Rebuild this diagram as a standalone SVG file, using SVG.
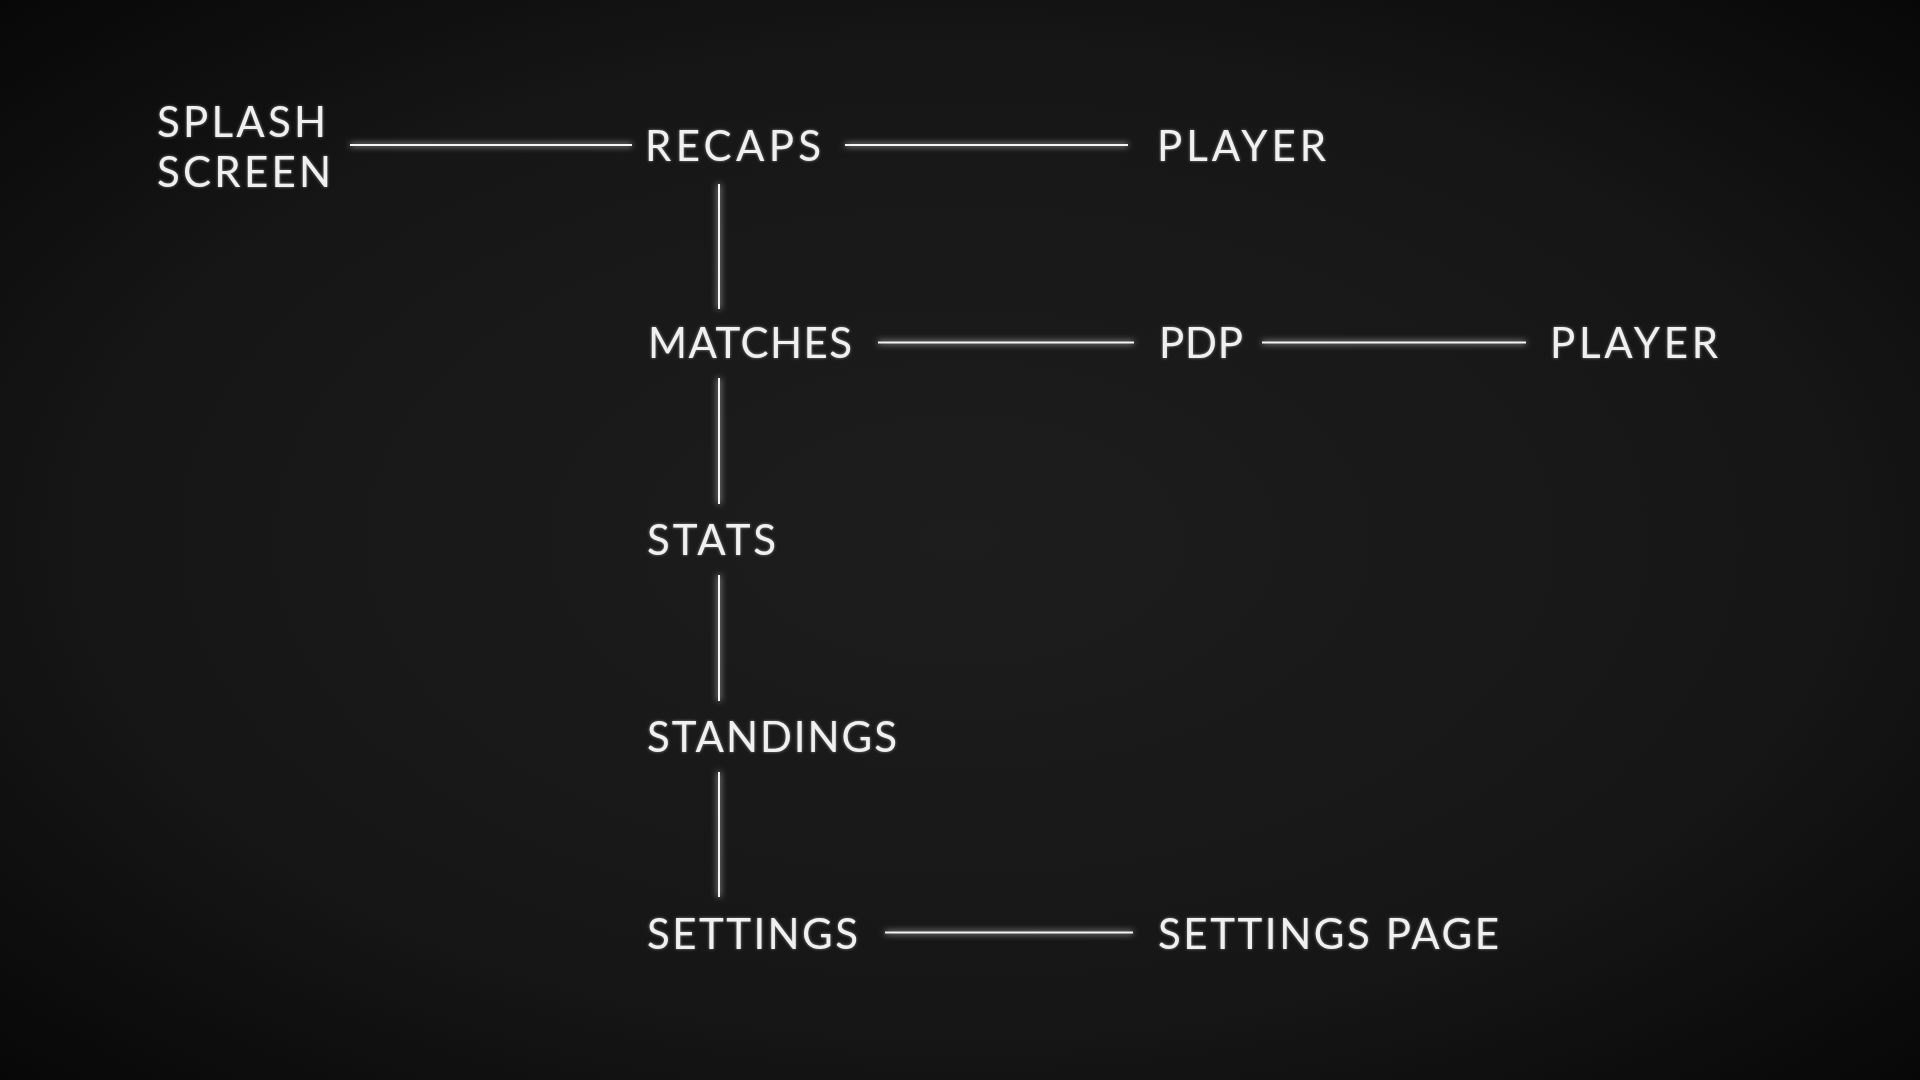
<svg xmlns="http://www.w3.org/2000/svg" width="1920" height="1080" viewBox="0 0 1920 1080">
<defs>
<radialGradient id="bg" cx="50%" cy="50%" r="75%">
<stop offset="0" stop-color="#1d1d1d"/>
<stop offset="0.6" stop-color="#161616"/>
<stop offset="1" stop-color="#050505"/>
</radialGradient>
<filter id="glow" x="0" y="0" width="1920" height="1080" filterUnits="userSpaceOnUse">
<feGaussianBlur in="SourceGraphic" stdDeviation="3" result="b"/>
<feMerge><feMergeNode in="b"/><feMergeNode in="SourceGraphic"/></feMerge>
</filter>
<filter id="tglow" x="0" y="0" width="1920" height="1080" filterUnits="userSpaceOnUse">
<feGaussianBlur in="SourceGraphic" stdDeviation="1.5" result="b"/>
<feComponentTransfer in="b" result="b2"><feFuncA type="linear" slope="0.5"/></feComponentTransfer>
<feMerge><feMergeNode in="b2"/><feMergeNode in="SourceGraphic"/></feMerge>
</filter>
</defs>
<style>
.t{font-family:Lato,"Liberation Sans",sans-serif;font-weight:400;font-size:42px;fill:#f0f0f0;}
.c line{stroke:#f4f4f4;stroke-width:2;}
</style>
<rect width="1920" height="1080" fill="url(#bg)"/>
<g id="connectors" class="c" filter="url(#glow)">
<line x1="350" y1="145" x2="632" y2="145"/>
<line x1="845" y1="145" x2="1128" y2="145"/>
<line x1="719" y1="184" x2="719" y2="309"/>
<line x1="878" y1="342.5" x2="1134" y2="342.5"/>
<line x1="1262" y1="342.5" x2="1526" y2="342.5"/>
<line x1="719" y1="378" x2="719" y2="504"/>
<line x1="719" y1="575" x2="719" y2="701"/>
<line x1="719" y1="772" x2="719" y2="897"/>
<line x1="885" y1="932.5" x2="1133" y2="932.5"/>
</g>
<g filter="url(#tglow)">
<g id="splash"><text class="t" x="157" y="137" textLength="169">SPLASH</text><text class="t" x="157" y="187" textLength="174">SCREEN</text></g>
<g id="recaps"><text class="t" x="645" y="161" textLength="176">RECAPS</text></g>
<g id="player1"><text class="t" x="1157" y="161" textLength="169">PLAYER</text></g>
<g id="matches"><text class="t" x="648" y="358" textLength="204">MATCHES</text></g>
<g id="pdp"><text class="t" x="1159" y="358" textLength="84">PDP</text></g>
<g id="player2"><text class="t" x="1550" y="358" textLength="168">PLAYER</text></g>
<g id="stats"><text class="t" x="647" y="555" textLength="129">STATS</text></g>
<g id="standings"><text class="t" x="647" y="752" textLength="250">STANDINGS</text></g>
<g id="settings"><text class="t" x="647" y="949" textLength="211">SETTINGS</text></g>
<g id="settings-page"><text class="t" x="1158" y="949" textLength="341">SETTINGS PAGE</text></g>
</g>
</svg>
